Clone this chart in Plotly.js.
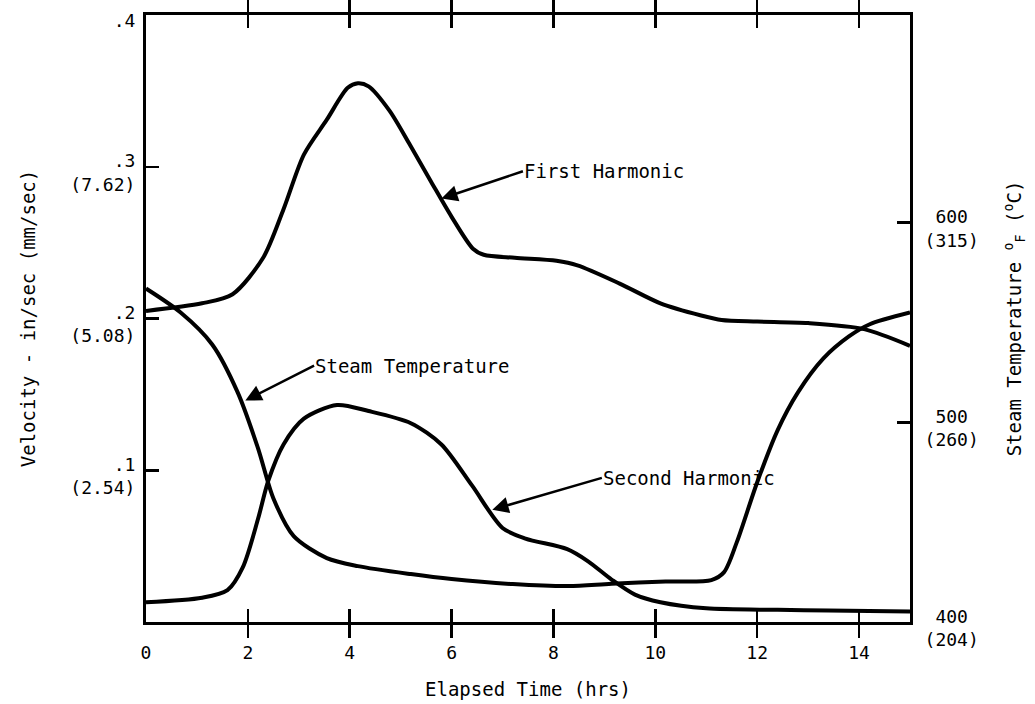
<!DOCTYPE html>
<html>
<head>
<meta charset="utf-8">
<script src="https://cdn.plot.ly/plotly-3.0.1.min.js"></script>
<style>html,body{margin:0;padding:0;background:#fff;}#chart{width:1035px;height:704px;}</style>
</head>
<body>
<div id="chart"></div>
<script>
// Elapsed time (hrs) and First Harmonic velocity (in/sec)
const timeFirst = [0, 1.1, 1.7, 2.3, 2.7, 3.1, 3.55, 3.96, 4.16, 4.37, 4.78, 5.19, 5.6, 6.0, 6.42, 6.63, 7.24, 8.06, 8.47, 9.3, 10.1, 10.9, 11.3, 12, 13, 14.1, 15];
const velFirst  = [0.205, 0.21, 0.216, 0.24, 0.272, 0.308, 0.331, 0.352, 0.355, 0.353, 0.337, 0.314, 0.29, 0.267, 0.246, 0.242, 0.24, 0.238, 0.235, 0.223, 0.21, 0.202, 0.199, 0.198, 0.197, 0.193, 0.182];
// Second Harmonic velocity (in/sec)
const timeSecond = [0, 1.1, 1.6, 1.9, 2.2, 2.4, 2.7, 3.1, 3.75, 4.37, 5.2, 5.8, 6.4, 7.0, 7.45, 8.27, 8.68, 9.14, 9.6, 10.1, 11.0, 12.4, 13.4, 15];
const velSecond  = [0.013, 0.016, 0.021, 0.036, 0.068, 0.093, 0.117, 0.134, 0.143, 0.139, 0.131, 0.117, 0.09, 0.062, 0.055, 0.048, 0.04, 0.028, 0.018, 0.013, 0.009, 0.008, 0.0075, 0.007];
// Steam temperature (deg F)
const timeSteam = [0, 0.68, 1.3, 1.8, 2.2, 2.5, 2.9, 3.55, 4.16, 5.2, 6.0, 7.2, 8.3, 9.14, 10.2, 11.1, 11.35, 11.6, 12.0, 12.4, 12.8, 13.3, 13.8, 14.2, 15];
const tempSteam = [567, 555, 539, 515, 487, 462, 443, 432, 428, 424, 421.5, 419, 418, 419.2, 420.3, 421, 425, 440, 470, 496, 515, 532, 543, 549, 555];
// Tick labels
const leftTickVals = [0.1, 0.2, 0.3, 0.4];
const leftTickText = ['.1<br>(2.54)', '.2<br>(5.08)', '.3<br>(7.62)', '.4'];
const rightTickVals = [400, 500, 600];
const rightTickText = ['\u00a0400<br>(204)', '\u00a0500<br>(260)', '\u00a0600<br>(315)'];
const xTickVals = [0, 2, 4, 6, 8, 10, 12, 14];

const lineStyle = {color: '#000', width: 4, shape: 'spline', smoothing: 0.8};
const fam = 'DejaVu Sans Mono, monospace';
const tickFont = {family: fam, size: 18, color: '#000'};
const titleFont = {family: fam, size: 19, color: '#000'};

const traces = [
  {x: timeFirst, y: velFirst, mode: 'lines', line: lineStyle, name: 'First Harmonic', yaxis: 'y'},
  {x: timeSecond, y: velSecond, mode: 'lines', line: lineStyle, name: 'Second Harmonic', yaxis: 'y'},
  {x: timeSteam, y: tempSteam, mode: 'lines', line: lineStyle, name: 'Steam Temperature', yaxis: 'y2'}
];

// Labelled arrow: text box's left-middle at (ax, ay), arrow head at (x, y)
const callout = (x, y, ax, ay, t) => ({
  x: x, y: y, ax: ax, ay: ay, xref: 'x', yref: 'y', axref: 'x', ayref: 'y',
  text: t, showarrow: true, arrowhead: 2, arrowsize: 1.3, arrowwidth: 2.5, arrowcolor: '#000',
  xanchor: 'left', yanchor: 'middle', borderpad: 0, font: titleFont
});

const layout = {
  width: 1035, height: 704,
  margin: {l: 146, r: 125, t: 15, b: 82},
  paper_bgcolor: '#fff', plot_bgcolor: '#fff',
  showlegend: false,
  font: tickFont,
  xaxis: {
    range: [0, 15], tickvals: xTickVals, ticks: 'inside', ticklen: 13, tickwidth: 2.5, tickcolor: '#000',
    showline: true, linewidth: 3, linecolor: '#000', mirror: 'allticks', showgrid: false, zeroline: false,
    ticklabelstandoff: 12,
    title: {text: 'Elapsed Time (hrs)', font: titleFont, standoff: 22}, tickfont: tickFont
  },
  yaxis: {
    range: [0, 0.4], tickvals: leftTickVals, ticktext: leftTickText, ticks: 'inside', ticklen: 13, tickwidth: 2.5, tickcolor: '#000',
    showline: true, linewidth: 3, linecolor: '#000', showgrid: false, zeroline: false,
    ticklabelshift: 6, ticklabelstandoff: 4, ticklabeloverflow: 'allow',
    title: {text: 'Velocity - in/sec (mm/sec)', font: titleFont, standoff: 30}, tickfont: tickFont
  },
  yaxis2: {
    range: [400, 704], overlaying: 'y', side: 'right', tickvals: rightTickVals, ticktext: rightTickText,
    ticks: 'inside', ticklen: 13, tickwidth: 2.5, tickcolor: '#000',
    showline: true, linewidth: 3, linecolor: '#000', showgrid: false, zeroline: false,
    ticklabelshift: 6, ticklabelstandoff: 8, ticklabeloverflow: 'allow',
    title: {text: 'Steam Temperature <sup>o</sup><sub>F</sub> (<sup>o</sup>C)', font: titleFont, standoff: 30}, tickfont: tickFont
  },
  annotations: [
    callout(5.8, 0.279, 7.4, 0.297, 'First Harmonic'),
    callout(1.95, 0.146, 3.3, 0.169, 'Steam Temperature'),
    callout(6.8, 0.074, 8.95, 0.095, 'Second Harmonic')
  ]
};

Plotly.newPlot('chart', traces, layout, {displayModeBar: false, staticPlot: true});
</script>
</body>
</html>
